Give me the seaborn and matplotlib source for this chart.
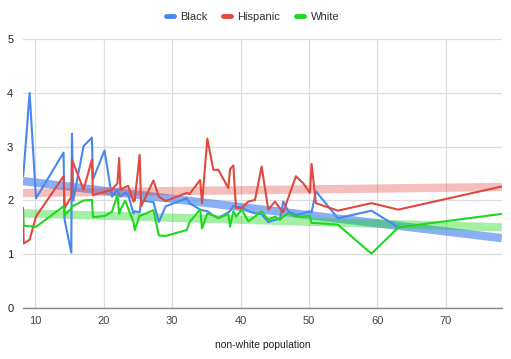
import numpy as np
import pandas as pd
import matplotlib
matplotlib.use("Agg")
import matplotlib.pyplot as plt
from matplotlib.lines import Line2D
import seaborn as sns

# share of non-white population (x) and the three series (y)
non_white = [8.2, 8.3, 9.17, 10.1, 14.13, 14.28, 15.26, 15.36, 15.55, 17.05,
             18.28, 18.42, 20.12, 21.2, 22.01, 22.26, 22.45, 23.14, 23.58, 24.35,
             24.53, 25.26, 25.47, 27.27, 28.06, 29.05, 32.15, 32.55, 34.09, 34.38,
             35.15, 36.03, 36.76, 38.22, 38.47, 38.95, 39.34, 40.18, 41.14, 42.12,
             43.09, 44.06, 45.04, 45.77, 46.25, 46.98, 48.1, 49.17, 50.15, 50.39,
             51.02, 54.23, 59.15, 63.07, 78.2]
black = [2.45, 2.55, 4.0, 2.04, 2.89, 1.64, 1.03, 3.24, 2.0, 3.01,
         3.17, 2.39, 2.93, 2.07, 2.2, 2.1, 2.07, 2.15, 2.1, 1.76,
         1.8, 1.78, 2.0, 1.97, 1.6, 1.89, 2.04, 1.95, 1.83, 1.82,
         1.8, 1.72, 1.67, 1.78, 1.8, 1.9, 1.88, 1.87, 1.8, 1.76,
         1.74, 1.6, 1.64, 1.66, 1.98, 1.8, 1.73, 1.76, 1.8, 1.78,
         2.17, 1.67, 1.81, 1.5, np.nan]
hispanic = [1.86, 1.2, 1.27, 1.7, 2.45, 1.86, 2.07, 2.76, 2.7, 2.2,
            2.76, 2.1, 2.16, 2.2, 2.32, 2.79, 2.2, 2.25, 2.27, 1.98,
            2.0, 2.85, 1.89, 2.37, 2.07, 1.99, 2.14, 2.12, 2.38, 1.95,
            3.15, 2.57, 2.57, 2.23, 2.58, 2.65, 1.86, 1.86, 1.98, 2.01,
            2.63, 1.83, 1.98, 1.85, 1.78, 2.05, 2.45, 2.32, 2.14, 2.68,
            1.95, 1.81, 1.95, 1.83, 2.26]
white = [1.79, 1.53, 1.52, 1.51, 1.89, 1.73, 1.85, 1.9, 1.9, 2.0,
         2.01, 1.69, 1.71, 1.79, 2.1, 1.75, 1.83, 2.0, 1.85, 1.6,
         1.45, 1.72, 1.72, 1.82, 1.35, 1.34, 1.45, 1.6, 1.83, 1.48,
         1.76, 1.72, 1.67, 1.75, 1.51, 1.8, 1.7, 1.83, 1.61, 1.7,
         1.8, 1.64, 1.7, 1.64, 1.7, 1.76, 1.7, 1.7, 1.72, 1.58,
         1.58, 1.55, 1.01, 1.5, 1.75]

groups = ["Black", "Hispanic", "White"]
# linear trendline values at the two ends of the x axis
trend_start = [2.36, 2.14, 1.76]
trend_end = [1.3, 2.25, 1.5]

colors = {"Black": "#4a86f0", "Hispanic": "#e0483e", "White": "#1ed81e"}
trend_alpha = {"Black": 0.65, "Hispanic": 0.35, "White": 0.4}

df = pd.DataFrame({"x": non_white, "Black": black, "Hispanic": hispanic, "White": white})
long_df = df.melt(id_vars="x", var_name="group", value_name="y").dropna()

sns.set_style("whitegrid")
plt.rcParams["font.family"] = ["Liberation Sans", "DejaVu Sans"]

fig = plt.figure(figsize=(5.11, 3.59), dpi=100)
ax = fig.add_axes([0.045, 0.142, 0.937, 0.749])
xmin, xmax = 8.2, 78.2
ax.set_xlim(xmin, xmax)
ax.set_ylim(0, 5)

# trendlines across the full axis
for g, y0, y1 in zip(groups, trend_start, trend_end):
    ax.plot([xmin, xmax], [y0, y1], color=colors[g], alpha=trend_alpha[g],
            lw=6, solid_capstyle="butt", zorder=2)

sns.lineplot(data=long_df, x="x", y="y", hue="group", hue_order=groups,
             palette=colors, lw=1.5, sort=False, estimator=None, ax=ax,
             legend=False, zorder=3)

ax.set_xticks([10, 20, 30, 40, 50, 60, 70])
ax.set_yticks([0, 1, 2, 3, 4, 5])
ax.tick_params(axis="x", labelsize=8, labelcolor="#444444", length=0, pad=6)
ax.tick_params(axis="y", labelsize=8, labelcolor="#222222", length=0, pad=7)
ax.grid(color="#dcdcdc", lw=0.9)
for side in ["top", "right", "left"]:
    ax.spines[side].set_visible(False)
ax.spines["bottom"].set_color("#888888")
ax.spines["bottom"].set_linewidth(1)
ax.set_xlabel("non-white population", fontsize=7.5, color="#222222", labelpad=10)
ax.set_ylabel("")

handles = [Line2D([0], [0], color=colors[g], lw=3.5) for g in groups]
fig.legend(handles, groups, loc="upper center", bbox_to_anchor=(0.494, 0.995),
           ncol=3, frameon=False, fontsize=8, handlelength=0.7,
           handletextpad=0.6, columnspacing=1.4, labelcolor="#333333")

fig.savefig("out.png", dpi=100)
